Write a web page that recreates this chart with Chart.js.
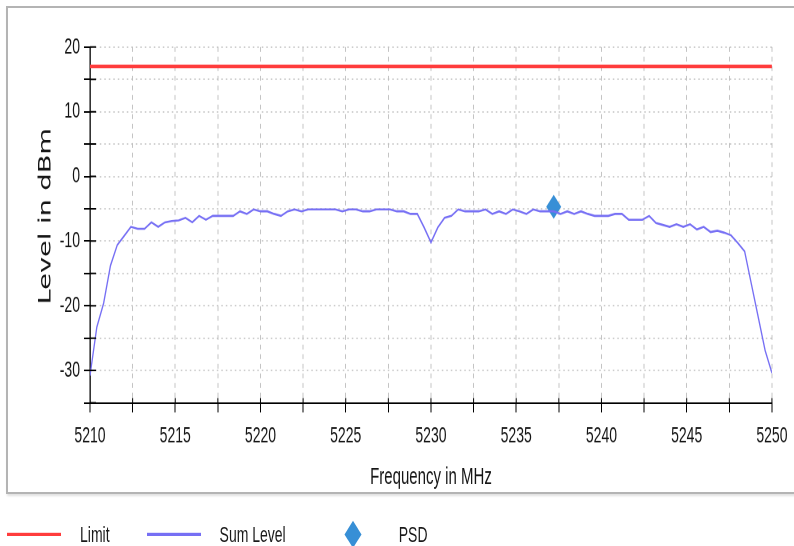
<!DOCTYPE html>
<html>
<head>
<meta charset="utf-8">
<script src="https://cdn.jsdelivr.net/npm/chart.js@4/dist/chart.umd.min.js"></script>
<style>
  html, body { margin: 0; padding: 0; background: #fff; }
  body { width: 794px; height: 546px; position: relative; overflow: hidden; }
  #frame {
    position: absolute; left: 6px; top: 6px; width: 800px; height: 484px;
    border: 2px solid #b4b4b4; box-shadow: 1px 2px 2px rgba(0,0,0,0.12);
  }
  /* the source picture is stretched vertically, so draw flat and stretch */
  #stage {
    position: absolute; left: 0; top: 0; width: 794px; height: 341.25px;
    transform: scaleY(1.6); transform-origin: 0 0;
  }
  #legend {
    position: absolute; left: 7px; top: 324px; height: 20px;
    display: flex; align-items: center;
    font: 14px "Liberation Sans", Arial, sans-serif; color: #1a1a1a;
  }
  .lg-mark { width: 54px; height: 20px; position: relative; margin-right: 19px; }
  .lg-text { margin-right: 37px; }
</style>
</head>
<body>
<div id="frame"></div>
<div id="stage">
  <canvas id="chart"></canvas>
  <div id="legend"></div>
</div>
<script>
// Frequency sweep (MHz) and measured sum level (dBm)
const freqs = [
  5210, 5210.4, 5210.8, 5211.2, 5211.6, 5212, 5212.4, 5212.8, 5213.2, 5213.6,
  5214, 5214.4, 5214.8, 5215.2, 5215.6, 5216, 5216.4, 5216.8, 5217.2, 5217.6,
  5218, 5218.4, 5218.8, 5219.2, 5219.6, 5220, 5220.4, 5220.8, 5221.2, 5221.6,
  5222, 5222.4, 5222.8, 5223.2, 5223.6, 5224, 5224.4, 5224.8, 5225.2, 5225.6,
  5226, 5226.4, 5226.8, 5227.2, 5227.6, 5228, 5228.4, 5228.8, 5229.2, 5229.6,
  5230, 5230.4, 5230.8, 5231.2, 5231.6, 5232, 5232.4, 5232.8, 5233.2, 5233.6,
  5234, 5234.4, 5234.8, 5235.2, 5235.6, 5236, 5236.4, 5236.8, 5237.2, 5237.6,
  5238, 5238.4, 5238.8, 5239.2, 5239.6, 5240, 5240.4, 5240.8, 5241.2, 5241.6,
  5242, 5242.4, 5242.8, 5243.2, 5243.6, 5244, 5244.4, 5244.8, 5245.2, 5245.6,
  5246, 5246.4, 5246.8, 5247.2, 5247.6, 5248, 5248.4, 5248.8, 5249.2, 5249.6,
  5250
];
const sumLevel = [
  -30.8, -23.3, -19.6, -13.8, -10.6, -9.2, -7.8, -8.1, -8.1, -7.1,
  -7.8, -7.1, -6.9, -6.8, -6.4, -7.1, -6.1, -6.7, -6.1, -6.1,
  -6.1, -6.1, -5.4, -5.8, -5.1, -5.4, -5.4, -5.8, -6.1, -5.4,
  -5.1, -5.4, -5.1, -5.1, -5.1, -5.1, -5.1, -5.4, -5.1, -5.1,
  -5.4, -5.4, -5.1, -5.1, -5.1, -5.4, -5.4, -5.8, -5.8, -7.9,
  -10.2, -7.9, -6.4, -6.1, -5.1, -5.4, -5.4, -5.4, -5.1, -5.8,
  -5.4, -5.8, -5.1, -5.4, -5.8, -5.1, -5.4, -5.4, -5.4, -5.8,
  -5.4, -5.8, -5.4, -5.8, -6.1, -6.1, -6.1, -5.8, -5.8, -6.7,
  -6.7, -6.7, -6.1, -7.2, -7.5, -7.8, -7.4, -7.8, -7.4, -8.2,
  -7.8, -8.6, -8.4, -8.7, -9.1, -10.3, -11.6, -16.7, -21.8, -26.9,
  -30.4
];
const limitFreqs = [5210, 5250];
const limitLevel = [17, 17];
const psdFreq = [5237.2];
const psdLevel = [-4.7];

const X_MIN = 5210, X_MAX = 5250, X_STEP = 2.5;
const Y_MIN = -35, Y_MAX = 20, Y_STEP = 5;

const toPoints = (xs, ys) => xs.map((x, i) => ({ x: x, y: ys[i] }));

Chart.defaults.font.family = '"Liberation Sans", Arial, sans-serif';
Chart.defaults.color = '#151515';

// small tick stubs on the inner side of both axes
const innerTicks = {
  id: 'innerTicks',
  afterDatasetsDraw(chart) {
    const { ctx, chartArea, scales: { x, y } } = chart;
    ctx.save();
    ctx.strokeStyle = '#000';
    ctx.lineWidth = 1;
    ctx.beginPath();
    y.ticks.forEach(t => {
      const py = y.getPixelForValue(t.value);
      ctx.moveTo(chartArea.left, py);
      ctx.lineTo(chartArea.left + 6, py);
    });
    x.ticks.forEach(t => {
      const px = x.getPixelForValue(t.value);
      ctx.moveTo(px, chartArea.bottom);
      ctx.lineTo(px, chartArea.bottom - 3);
    });
    ctx.stroke();
    ctx.restore();
  }
};

const chart = new Chart(document.getElementById('chart'), {
  type: 'line',
  data: {
    datasets: [
      {
        label: 'Limit',
        data: toPoints(limitFreqs, limitLevel),
        borderColor: '#ff3c3c',
        borderWidth: 2.2,
        pointRadius: 0
      },
      {
        label: 'Sum Level',
        data: toPoints(freqs, sumLevel),
        borderColor: '#766ff4',
        borderWidth: 1.3,
        pointRadius: 0,
        tension: 0
      },
      {
        label: 'PSD',
        data: toPoints(psdFreq, psdLevel),
        showLine: false,
        pointStyle: 'rectRot',
        pointRadius: 7.5,
        pointBackgroundColor: '#378fd6',
        pointBorderColor: '#378fd6',
        pointBorderWidth: 0
      }
    ]
  },
  options: {
    responsive: true,
    maintainAspectRatio: false,
    devicePixelRatio: 2,
    animation: false,
    events: [],
    layout: { padding: { left: 0, right: 20, top: 29.4, bottom: 30 } },
    plugins: {
      legend: { display: false },
      tooltip: { enabled: false }
    },
    scales: {
      x: {
        type: 'linear',
        min: X_MIN,
        max: X_MAX,
        afterFit: (scale) => { scale.height = 59.55; },
        ticks: {
          stepSize: X_STEP,
          autoSkip: false,
          maxRotation: 0,
          padding: 6.5,
          font: { size: 14 },
          callback: (v) => (v % 5 === 0 ? String(v) : '')
        },
        grid: {
          color: '#c4c4c4',
          lineWidth: 1,
          tickLength: 6,
          tickColor: '#000',
          tickWidth: 1
        },
        border: { display: true, color: '#000', width: 1, dash: [3, 3] },
        title: {
          display: true,
          text: 'Frequency in MHz',
          font: { size: 15 },
          padding: { top: 0, bottom: 4 }
        }
      },
      y: {
        min: Y_MIN,
        max: Y_MAX,
        afterFit: (scale) => { scale.width = 90; },
        ticks: {
          stepSize: Y_STEP,
          autoSkip: false,
          padding: 4,
          font: { size: 14 },
          callback: (v) => (v % 10 === 0 ? String(v) : '')
        },
        grid: {
          color: '#bdbdbd',
          lineWidth: 0.8,
          tickLength: 6,
          tickColor: '#000',
          tickWidth: 1
        },
        border: { display: true, color: '#000', width: 1.3, dash: [1.5, 3] },
        title: {
          display: true,
          text: '  Level in dBm',
          font: { family: '"DejaVu Sans", sans-serif', size: 17 },
          padding: { top: 36, bottom: 0 }
        }
      }
    }
  },
  plugins: [innerTicks]
});

// legend built from the datasets
const legend = document.getElementById('legend');
chart.data.datasets.forEach(ds => {
  const mark = document.createElement('div');
  mark.className = 'lg-mark';
  const sym = document.createElement('div');
  sym.style.position = 'absolute';
  if (ds.showLine === false) {
    mark.style.marginRight = '22px';
    sym.style.width = '12px';
    sym.style.height = '12px';
    sym.style.left = '24px';
    sym.style.top = '4px';
    sym.style.background = ds.pointBackgroundColor;
    sym.style.transform = 'rotate(45deg)';
  } else {
    sym.style.left = '0';
    sym.style.width = '54px';
    sym.style.top = (10 - ds.borderWidth * 0.8 / 2) + 'px';
    sym.style.height = (ds.borderWidth * 0.8) + 'px';
    sym.style.background = ds.borderColor;
  }
  mark.appendChild(sym);
  const txt = document.createElement('span');
  txt.className = 'lg-text';
  txt.textContent = ds.label;
  legend.appendChild(mark);
  legend.appendChild(txt);
});
</script>
</body>
</html>
